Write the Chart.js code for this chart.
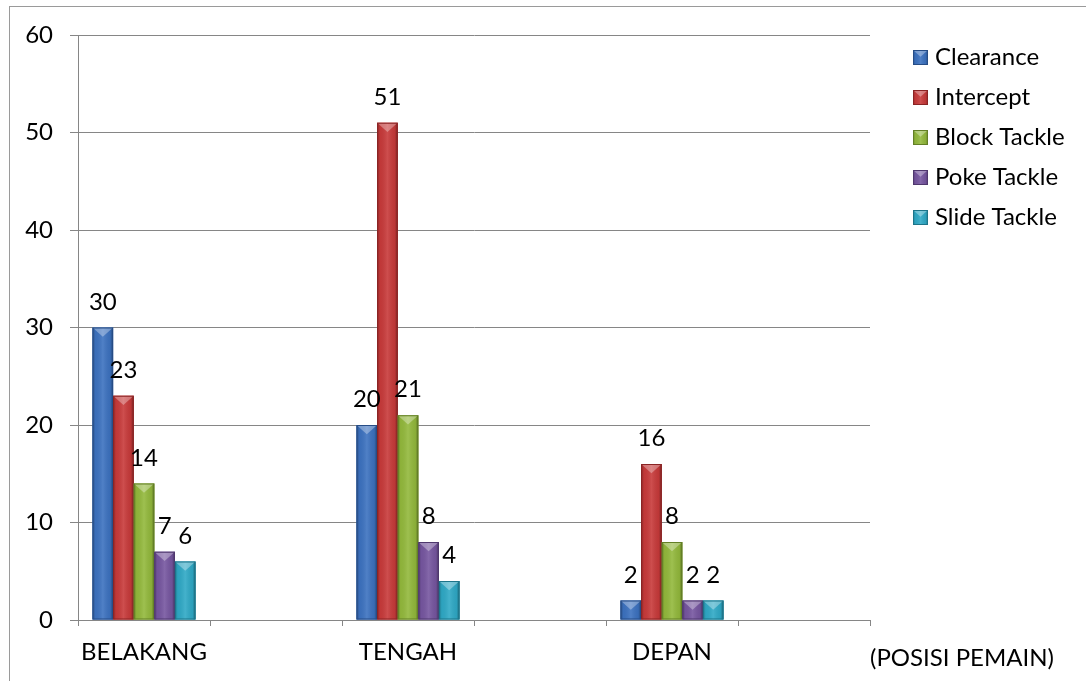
<!DOCTYPE html>
<html>
<head>
<meta charset="utf-8">
<script src="https://cdn.jsdelivr.net/npm/chart.js@4.4.1/dist/chart.umd.min.js"></script>
<style>
    html, body { margin: 0; padding: 0; background: #fff; }
    #wrap { position: relative; width: 1086px; height: 681px; overflow: hidden; }
    #frame { position: absolute; left: 9px; top: 6px; width: 1100px; height: 700px; border: 1px solid #9a9a9a; box-sizing: border-box; }
    #myChart { position: absolute; left: 0; top: 0; }
</style>
</head>
<body>
<div id="wrap">
    <div id="frame"></div>
    <canvas id="myChart" width="1086" height="681"></canvas>
</div>
<script>
// data
const categories = ['BELAKANG', '', 'TENGAH', '', 'DEPAN', ''];
const seriesNames = ['Clearance', 'Intercept', 'Block Tackle', 'Poke Tackle', 'Slide Tackle'];
const clearance = [30, null, 20, null, 2, null];
const intercept = [23, null, 51, null, 16, null];
const blockTackle = [14, null, 21, null, 8, null];
const pokeTackle = [7, null, 8, null, 2, null];
const slideTackle = [6, null, 4, null, 2, null];
const yMin = 0;
const yMax = 60;
const yStep = 10;
const axisTitle = '(POSISI PEMAIN)';

const seriesValues = [clearance, intercept, blockTackle, pokeTackle, slideTackle];
const seriesColors = ['#3c72c0', '#c83a3a', '#93b93c', '#7656a0', '#2fa9c6'];
const seriesEdges = ['#274d86', '#8a2424', '#637f26', '#4f386e', '#1d7489'];
const fontFamily = 'Lato';
const fontSize = 24;

// the beveled look of the office bars
function paintBevel(ctx, left, top, w, h, color) {
    const grad = ctx.createLinearGradient(left, 0, left + w, 0);
    grad.addColorStop(0, 'rgba(0,0,0,0.30)');
    grad.addColorStop(0.14, 'rgba(0,0,0,0.04)');
    grad.addColorStop(0.5, 'rgba(255,255,255,0.10)');
    grad.addColorStop(0.86, 'rgba(0,0,0,0.06)');
    grad.addColorStop(1, 'rgba(0,0,0,0.38)');
    ctx.fillStyle = color;
    ctx.fillRect(left, top, w, h);
    ctx.fillStyle = grad;
    ctx.fillRect(left, top, w, h);
    const th = Math.min(w * 0.45, h);
    ctx.beginPath();
    ctx.moveTo(left, top);
    ctx.lineTo(left + w, top);
    ctx.lineTo(left + w / 2, top + th);
    ctx.closePath();
    ctx.fillStyle = 'rgba(255,255,255,0.32)';
    ctx.fill();
}

const bevelPlugin = {
    id: 'bevel',
    afterDatasetsDraw(chart) {
        const ctx = chart.ctx;
        ctx.save();
        chart.data.datasets.forEach((ds, di) => {
            const meta = chart.getDatasetMeta(di);
            meta.data.forEach((bar, i) => {
                if (ds.data[i] == null) {
                    return;
                }
                const left = bar.x - bar.width / 2;
                const h = bar.base - bar.y;
                paintBevel(ctx, left, bar.y, bar.width, h, seriesColors[di]);
                ctx.strokeStyle = seriesEdges[di];
                ctx.lineWidth = 1;
                ctx.strokeRect(left + 0.5, bar.y + 0.5, bar.width - 1, h - 1);
            });
        });
        ctx.restore();
    }
};

const labelPlugin = {
    id: 'valueLabels',
    afterDatasetsDraw(chart) {
        const ctx = chart.ctx;
        ctx.save();
        ctx.font = `${fontSize}px ${fontFamily}`;
        ctx.fillStyle = '#000';
        ctx.textAlign = 'center';
        ctx.textBaseline = 'alphabetic';
        chart.data.datasets.forEach((ds, di) => {
            const meta = chart.getDatasetMeta(di);
            meta.data.forEach((bar, i) => {
                if (ds.data[i] == null) {
                    return;
                }
                ctx.fillText(String(ds.data[i]), bar.x, bar.y - 18);
            });
        });
        ctx.restore();
    }
};

const legendPlugin = {
    id: 'sideLegend',
    afterDraw(chart) {
        const ctx = chart.ctx;
        const area = chart.chartArea;
        ctx.save();
        ctx.font = `${fontSize}px ${fontFamily}`;
        ctx.textAlign = 'left';
        ctx.textBaseline = 'middle';
        chart.data.datasets.forEach((ds, di) => {
            const x = area.right + 43;
            const y = area.top + 22 + di * 40;
            paintBevel(ctx, x, y - 7, 15, 15, seriesColors[di]);
            ctx.strokeStyle = seriesEdges[di];
            ctx.strokeRect(x + 0.5, y - 6.5, 14, 14);
            ctx.fillStyle = '#000';
            ctx.fillText(ds.label, x + 22, y);
        });
        // axis caption to the right of the category axis
        ctx.textBaseline = 'alphabetic';
        ctx.fillText(axisTitle, area.right, area.bottom + 46);
        ctx.restore();
    }
};

function buildDatasets() {
    return seriesNames.map((name, i) => ({
        label: name,
        data: seriesValues[i],
        backgroundColor: seriesColors[i],
        borderWidth: 0,
        categoryPercentage: 0.78,
        barPercentage: 1.0
    }));
}

function initApp() {
    const ctx = document.getElementById('myChart').getContext('2d');
    Chart.defaults.font.family = fontFamily;
    Chart.defaults.font.size = fontSize;
    Chart.defaults.color = '#000';
    const myChart = new Chart(ctx, {
        type: 'bar',
        data: {
            labels: categories,
            datasets: buildDatasets()
        },
        options: {
            responsive: false,
            animation: false,
            layout: {
                padding: { top: 35, right: 216, bottom: 0, left: 0 }
            },
            plugins: {
                legend: { display: false },
                tooltip: { enabled: false }
            },
            scales: {
                x: {
                    grid: {
                        offset: true,
                        drawOnChartArea: false,
                        drawTicks: true,
                        tickLength: 6,
                        color: '#868686'
                    },
                    border: { color: '#868686' },
                    ticks: { padding: 12, maxRotation: 0, autoSkip: false },
                    afterFit(scale) { scale.height = 61; }
                },
                y: {
                    min: yMin,
                    max: yMax,
                    grid: {
                        color: '#868686',
                        drawTicks: true,
                        tickLength: 8
                    },
                    border: { color: '#868686' },
                    ticks: { stepSize: yStep, padding: 17 },
                    afterFit(scale) { scale.width = 78; }
                }
            }
        },
        plugins: [bevelPlugin, labelPlugin, legendPlugin]
    });
    console.debug(myChart.chartArea);
}

document.fonts.load(`${fontSize}px ${fontFamily}`).then(initApp, initApp);
</script>
</body>
</html>
